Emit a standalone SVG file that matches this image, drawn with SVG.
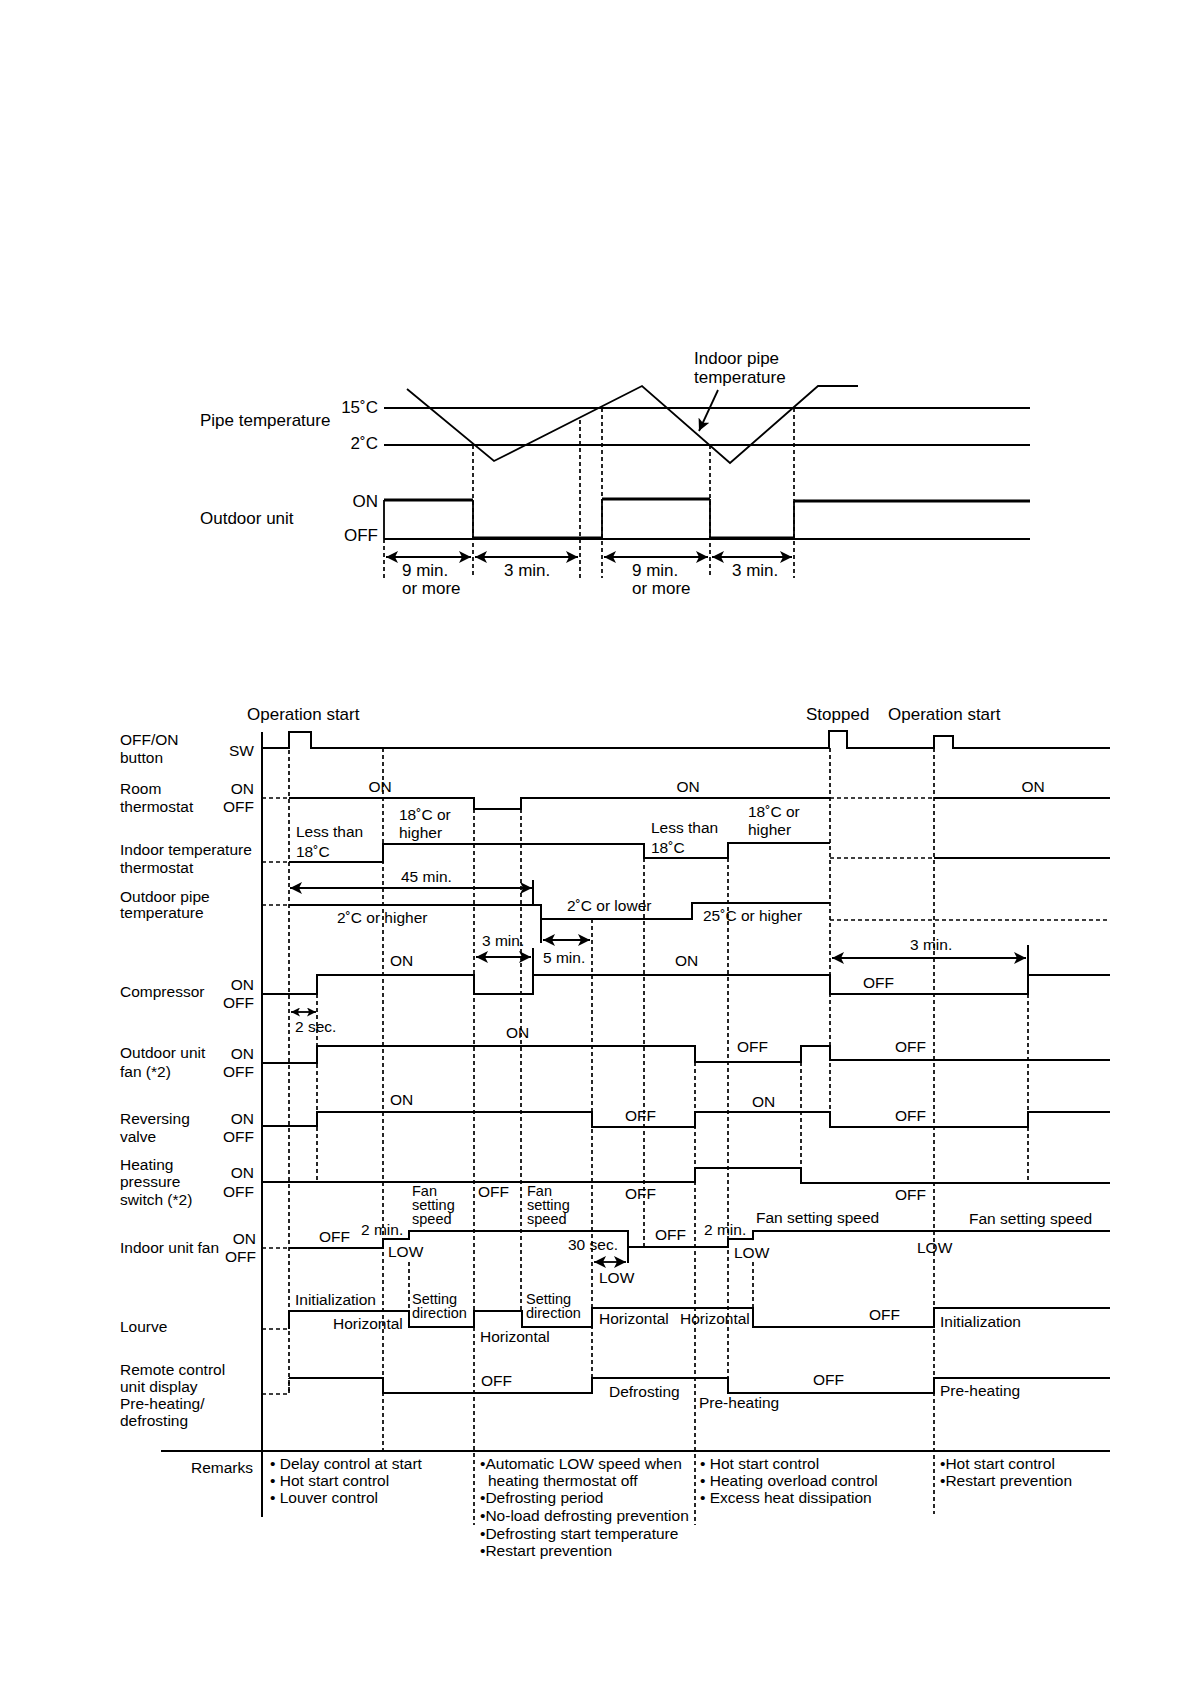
<svg xmlns="http://www.w3.org/2000/svg" width="1190" height="1684" viewBox="0 0 1190 1684">
<style>
text{font-family:"Liberation Sans",Arial,sans-serif;fill:#000}
.t17{font-size:17px}
.t{font-size:15.5px}
.s{font-size:14.5px}
.e{text-anchor:end}
.c{text-anchor:middle}
.sig{fill:none;stroke:#000;stroke-width:2}
.thk{fill:none;stroke:#000;stroke-width:3.2}
.thin{fill:none;stroke:#000;stroke-width:1.8}
.dash{fill:none;stroke:#000;stroke-width:1.7;stroke-dasharray:4 3}
.arr{fill:none;stroke:#000;stroke-width:1.8;marker-start:url(#ah);marker-end:url(#ah)}
.arrs{fill:none;stroke:#000;stroke-width:1.8;marker-start:url(#ahs);marker-end:url(#ahs)}
</style>
<defs>
<marker id="ah" viewBox="0 0 12 12" refX="12" refY="6" markerWidth="12" markerHeight="12" markerUnits="userSpaceOnUse" orient="auto-start-reverse"><path d="M0,0 L12,6 L0,12 L3,6 z" fill="#000"/></marker>
<marker id="ahs" viewBox="0 0 12 12" refX="12" refY="6" markerWidth="9" markerHeight="9" markerUnits="userSpaceOnUse" orient="auto-start-reverse"><path d="M0,0 L12,6 L0,12 L3,6 z" fill="#000"/></marker>
</defs>
<rect width="1190" height="1684" fill="#fff"/>

<!-- ================= TOP DIAGRAM ================= -->
<g id="top-pipe-temperature">
<text class="t17" x="200" y="426">Pipe temperature</text>
<text class="t17 e" x="378" y="413">15˚C</text>
<text class="t17 e" x="378" y="449">2˚C</text>
<line class="thin" x1="384" y1="408" x2="1030" y2="408"/>
<line class="thin" x1="384" y1="445" x2="1030" y2="445"/>
<polyline class="thin" points="407,389 494,461 642,386 730,463 818,386 858,386"/>
<text class="t17" x="694" y="364">Indoor pipe</text>
<text class="t17" x="694" y="383">temperature</text>
<line class="thin" x1="718" y1="390" x2="699" y2="431" marker-end="url(#ah)"/>
</g>
<g id="top-outdoor-unit">
<text class="t17" x="200" y="524">Outdoor unit</text>
<text class="t17 e" x="378" y="507">ON</text>
<text class="t17 e" x="378" y="541">OFF</text>
<line class="thin" x1="384" y1="539" x2="1030" y2="539"/>
<path class="thin" d="M384,539 V500 M473,500 V539 M602,539 V499 M710,499 V539 M794,539 V501"/>
<path class="thk" d="M384,500 H473 M473,538 H602 M602,499 H710 M710,538 H794 M794,501 H1030"/>
</g>
<g id="top-connectors">
<path class="dash" d="M384,539 V578 M473,445 V578 M580,420 V578 M602,408 V578 M710,445 V578 M794,408 V578"/>
<line class="arr" x1="386" y1="557" x2="471" y2="557"/>
<line class="arr" x1="475" y1="557" x2="578" y2="557"/>
<line class="arr" x1="604" y1="557" x2="708" y2="557"/>
<line class="arr" x1="712" y1="557" x2="792" y2="557"/>
<text class="t17" x="402" y="576">9 min.</text>
<text class="t17" x="402" y="594">or more</text>
<text class="t17" x="504" y="576">3 min.</text>
<text class="t17" x="632" y="576">9 min.</text>
<text class="t17" x="632" y="594">or more</text>
<text class="t17" x="732" y="576">3 min.</text>
</g>

<!-- ================= BOTTOM DIAGRAM ================= -->
<g id="axes">
<line class="sig" x1="262" y1="732" x2="262" y2="1517"/>
<line class="sig" x1="161" y1="1451" x2="1110" y2="1451"/>
<text class="t17" x="247" y="720">Operation start</text>
<text class="t17" x="806" y="720">Stopped</text>
<text class="t17" x="888" y="720">Operation start</text>
</g>

<g id="connectors">
<path class="dash" d="M289,750 V1394 M317,994 V1182 M383,748 V1451 M409,1262 V1311 M474,809 V1525 M521,809 V1311 M592,919 V1393 M644,858 V1247 M695,1062 V1525 M728,858 V1393 M753,1262 V1311 M801,1062 V1168 M830,748 V1127 M934,748 V1514 M1028,994 V1182"/>
</g>

<g id="row-sw">
<text class="t" x="120" y="745">OFF/ON</text>
<text class="t" x="120" y="763">button</text>
<text class="t e" x="254" y="756">SW</text>
<path class="sig" d="M262,748 H289 V732 H311 V748 H829 V731 H847 V748 H934 V736 H953 V748 H1110"/>
</g>

<g id="row-room-thermostat">
<text class="t" x="120" y="794">Room</text>
<text class="t" x="120" y="812">thermostat</text>
<text class="t e" x="254" y="794">ON</text>
<text class="t e" x="254" y="812">OFF</text>
<path class="dash" d="M262,798 H289 M830,798 H934"/>
<path class="sig" d="M289,798 H474 V809 H521 V798 H830 M934,798 H1110"/>
<text class="t c" x="380" y="792">ON</text>
<text class="t c" x="688" y="792">ON</text>
<text class="t c" x="1033" y="792">ON</text>
</g>

<g id="row-indoor-temp-thermostat">
<text class="t" x="120" y="855">Indoor temperature</text>
<text class="t" x="120" y="873">thermostat</text>
<path class="dash" d="M262,862 H289 M830,858 H934"/>
<path class="sig" d="M289,862 H383 V844 H644 V858 H728 V843 H830 M934,858 H1110"/>
<text class="t" x="296" y="837">Less than</text>
<text class="t" x="296" y="857">18˚C</text>
<text class="t" x="399" y="820">18˚C or</text>
<text class="t" x="399" y="838">higher</text>
<text class="t" x="651" y="833">Less than</text>
<text class="t" x="651" y="853">18˚C</text>
<text class="t" x="748" y="817">18˚C or</text>
<text class="t" x="748" y="835">higher</text>
<line class="arr" x1="290" y1="888" x2="532" y2="888"/>
<line class="sig" x1="533" y1="880" x2="533" y2="905"/>
<text class="t" x="401" y="882">45 min.</text>
</g>

<g id="row-outdoor-pipe">
<text class="t" x="120" y="902">Outdoor pipe</text>
<text class="t" x="120" y="918">temperature</text>
<path class="dash" d="M262,905 H289 M830,920 H1110"/>
<path class="sig" d="M289,905 H541 V919 H692 V903 H830 M541,919 V943"/>
<text class="t" x="337" y="923">2˚C or higher</text>
<text class="t" x="567" y="911">2˚C or lower</text>
<text class="t" x="703" y="921">25˚C or higher</text>
<line class="arr" x1="543" y1="940" x2="590" y2="940"/>
<text class="t" x="543" y="963">5 min.</text>
</g>

<g id="row-compressor">
<text class="t" x="120" y="997">Compressor</text>
<text class="t e" x="254" y="990">ON</text>
<text class="t e" x="254" y="1008">OFF</text>
<path class="sig" d="M262,994 H317 V975 H474 V994 H533 V975 H830 V994 H1028 V975 H1110 M533,975 V948 M1028,975 V945"/>
<text class="t" x="390" y="966">ON</text>
<text class="t" x="675" y="966">ON</text>
<text class="t" x="863" y="988">OFF</text>
<line class="arr" x1="476" y1="957" x2="531" y2="957"/>
<text class="t" x="482" y="946">3 min.</text>
<line class="arr" x1="832" y1="958" x2="1026" y2="958"/>
<text class="t" x="910" y="950">3 min.</text>
<line class="arrs" x1="291" y1="1012" x2="316" y2="1012"/>
<text class="t" x="295" y="1032">2 sec.</text>
</g>

<g id="row-outdoor-fan">
<text class="t" x="120" y="1058">Outdoor unit</text>
<text class="t" x="120" y="1077">fan (*2)</text>
<text class="t e" x="254" y="1059">ON</text>
<text class="t e" x="254" y="1077">OFF</text>
<path class="sig" d="M262,1063 H317 V1046 H695 V1062 H801 V1046 H830 V1060 H1110"/>
<text class="t" x="506" y="1038">ON</text>
<text class="t" x="737" y="1052">OFF</text>
<text class="t" x="895" y="1052">OFF</text>
</g>

<g id="row-reversing-valve">
<text class="t" x="120" y="1124">Reversing</text>
<text class="t" x="120" y="1142">valve</text>
<text class="t e" x="254" y="1124">ON</text>
<text class="t e" x="254" y="1142">OFF</text>
<path class="sig" d="M262,1126 H317 V1112 H592 V1127 H695 V1112 H830 V1127 H1028 V1112 H1110"/>
<text class="t" x="390" y="1105">ON</text>
<text class="t" x="625" y="1121">OFF</text>
<text class="t" x="752" y="1107">ON</text>
<text class="t" x="895" y="1121">OFF</text>
</g>

<g id="row-heating-pressure-switch">
<text class="t" x="120" y="1170">Heating</text>
<text class="t" x="120" y="1187">pressure</text>
<text class="t" x="120" y="1205">switch (*2)</text>
<text class="t e" x="254" y="1178">ON</text>
<text class="t e" x="254" y="1197">OFF</text>
<path class="sig" d="M262,1182 H695 V1168 H801 V1183 H1110"/>
<text class="t" x="478" y="1197">OFF</text>
<text class="t" x="625" y="1199">OFF</text>
<text class="t" x="895" y="1200">OFF</text>
</g>

<g id="row-indoor-fan">
<text class="t" x="120" y="1253">Indoor unit fan</text>
<text class="t e" x="256" y="1244">ON</text>
<text class="t e" x="256" y="1262">OFF</text>
<path class="dash" d="M262,1248 H289"/>
<path class="sig" d="M289,1248 H383 V1239 H409 V1231 H628 V1247 H728 V1239 H753 V1231 H1110 M628,1247 V1263"/>
<text class="t" x="319" y="1242">OFF</text>
<text class="t" x="361" y="1235">2 min.</text>
<text class="t" x="388" y="1257">LOW</text>
<text class="s" x="412" y="1196">Fan</text>
<text class="s" x="412" y="1210">setting</text>
<text class="s" x="412" y="1224">speed</text>
<text class="s" x="527" y="1196">Fan</text>
<text class="s" x="527" y="1210">setting</text>
<text class="s" x="527" y="1224">speed</text>
<text class="t" x="568" y="1250">30 sec.</text>
<line class="arr" x1="594" y1="1262" x2="626" y2="1262"/>
<text class="t" x="599" y="1283">LOW</text>
<text class="t" x="655" y="1240">OFF</text>
<text class="t" x="704" y="1235">2 min.</text>
<text class="t" x="734" y="1258">LOW</text>
<text class="t" x="756" y="1223">Fan setting speed</text>
<text class="t" x="917" y="1253">LOW</text>
<text class="t" x="969" y="1224">Fan setting speed</text>
</g>

<g id="row-lourve">
<text class="t" x="120" y="1332">Lourve</text>
<path class="dash" d="M262,1329 H289"/>
<path class="sig" d="M289,1329 V1311 H409 V1327 H474 V1311 H522 V1327 H592 V1308 H753 V1327 H934 V1308 H1110"/>
<text class="t" x="295" y="1305">Initialization</text>
<text class="t" x="333" y="1329">Horizontal</text>
<text class="s" x="412" y="1304">Setting</text>
<text class="s" x="412" y="1318">direction</text>
<text class="s" x="526" y="1304">Setting</text>
<text class="s" x="526" y="1318">direction</text>
<text class="t" x="480" y="1342">Horizontal</text>
<text class="t" x="599" y="1324">Horizontal</text>
<text class="t" x="680" y="1324">Horizontal</text>
<text class="t" x="869" y="1320">OFF</text>
<text class="t" x="940" y="1327">Initialization</text>
</g>

<g id="row-remote-display">
<text class="t" x="120" y="1375">Remote control</text>
<text class="t" x="120" y="1392">unit display</text>
<text class="t" x="120" y="1409">Pre-heating/</text>
<text class="t" x="120" y="1426">defrosting</text>
<path class="dash" d="M262,1394 H289 V1378"/>
<path class="sig" d="M289,1378 H383 V1393 H592 V1378 H728 V1393 H934 V1378 H1110"/>
<text class="t" x="481" y="1386">OFF</text>
<text class="t" x="609" y="1397">Defrosting</text>
<text class="t" x="699" y="1408">Pre-heating</text>
<text class="t" x="813" y="1385">OFF</text>
<text class="t" x="940" y="1396">Pre-heating</text>
</g>

<g id="remarks">
<text class="t e" x="253" y="1473">Remarks</text>
<text class="t" x="270" y="1469">• Delay control at start</text>
<text class="t" x="270" y="1486">• Hot start control</text>
<text class="t" x="270" y="1503">• Louver control</text>
<text class="t" x="480" y="1469">•Automatic LOW speed when</text>
<text class="t" x="488" y="1486">heating thermostat off</text>
<text class="t" x="480" y="1503">•Defrosting period</text>
<text class="t" x="480" y="1521">•No-load defrosting prevention</text>
<text class="t" x="480" y="1539">•Defrosting start temperature</text>
<text class="t" x="480" y="1556">•Restart prevention</text>
<text class="t" x="700" y="1469">• Hot start control</text>
<text class="t" x="700" y="1486">• Heating overload control</text>
<text class="t" x="700" y="1503">• Excess heat dissipation</text>
<text class="t" x="940" y="1469">•Hot start control</text>
<text class="t" x="940" y="1486">•Restart prevention</text>
</g>
</svg>
